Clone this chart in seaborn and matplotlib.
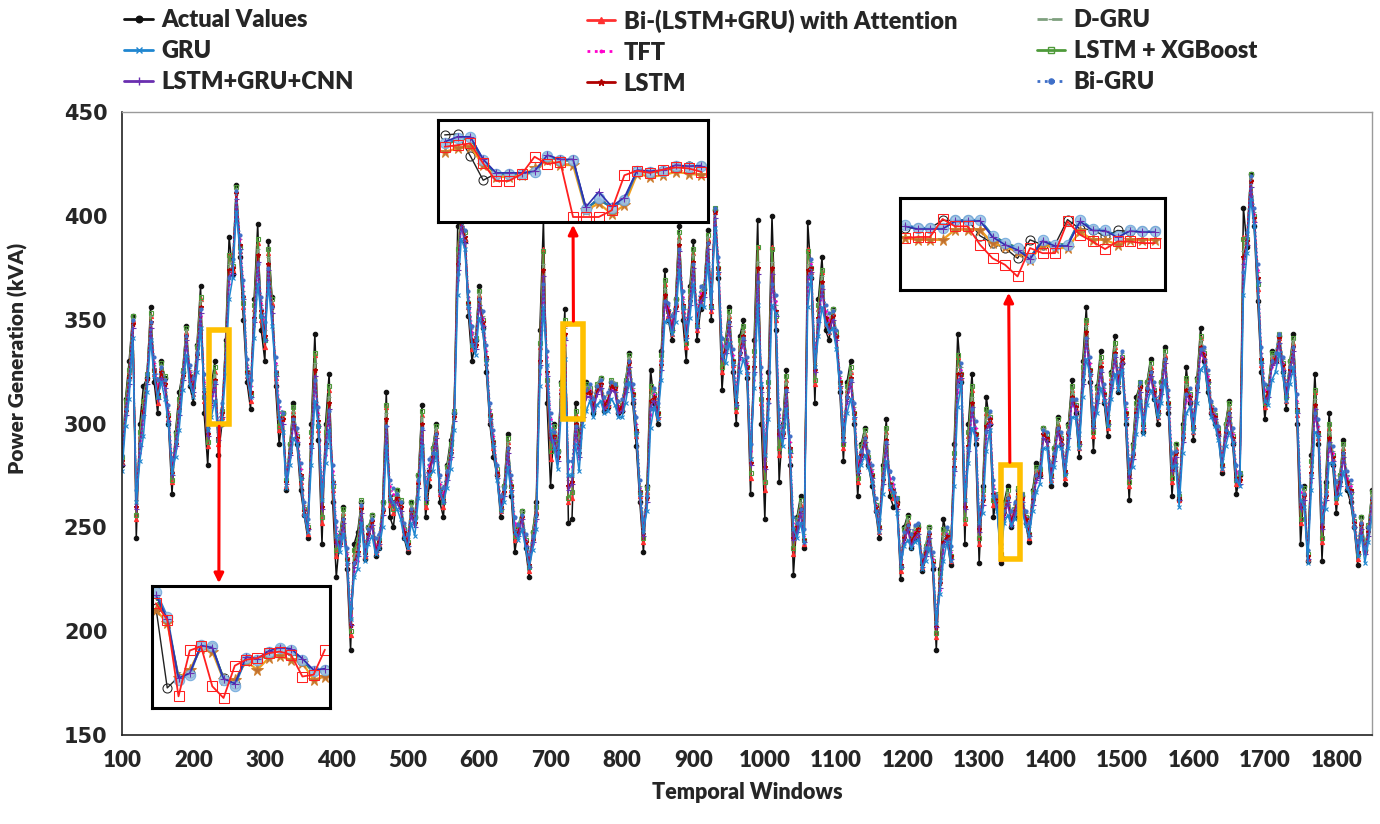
import numpy as np
import pandas as pd
import matplotlib
matplotlib.use("Agg")
import matplotlib.pyplot as plt
import seaborn as sns
from matplotlib.lines import Line2D
from matplotlib.patches import Rectangle

# ---------------- data ----------------
# readings every 10 windows (100, 110, ...) and the in-between windows (105, 115, ...)
windows_a = list(range(100, 1851, 10))
windows_b = list(range(105, 1850, 10))

actual_a = [
    280, 330, 245, 318, 356, 305, 322, 266, 315, 347,
    310, 366, 280, 330, 300, 390, 415, 350, 307, 396,
    330, 361, 290, 268, 310, 268, 245, 343, 242, 324,
    226, 260, 191, 248, 235, 256, 240, 315, 250, 262,
    238, 255, 309, 270, 300, 255, 292, 395, 388, 330,
    366, 325, 284, 255, 295, 238, 258, 226, 262, 398,
    270, 287, 355, 254, 293, 320, 305, 322, 308, 318,
    306, 334, 289, 238, 326, 300, 374, 340, 395, 330,
    388, 355, 393, 403, 316, 356, 300, 350, 266, 398,
    254, 400, 272, 326, 227, 265, 397, 310, 380, 340,
    342, 282, 330, 265, 298, 270, 245, 302, 260, 225,
    256, 245, 229, 250, 191, 254, 232, 343, 242, 324,
    233, 313, 255, 233, 270, 255, 265, 243, 281, 298,
    270, 303, 271, 321, 284, 356, 287, 335, 294, 342,
    329, 263, 313, 296, 331, 300, 337, 265, 263, 327,
    292, 346, 315, 300, 276, 311, 266, 404, 420, 359,
    302, 335, 342, 307, 343, 242, 234, 324, 234, 305,
    257, 292, 262, 232, 239, 268]
actual_b = [
    312, 352, 300, 322, 320, 330, 300, 296, 325, 318,
    338, 305, 318, 285, 340, 372, 380, 320, 360, 345,
    388, 318, 305, 290, 290, 256, 300, 292, 300, 262,
    246, 230, 242, 262, 250, 236, 262, 255, 268, 245,
    262, 275, 255, 288, 262, 280, 305, 398, 352, 340,
    346, 300, 275, 270, 265, 250, 240, 248, 345, 310,
    300, 320, 252, 310, 308, 315, 318, 306, 320, 305,
    320, 310, 262, 270, 310, 335, 350, 360, 350, 366,
    340, 365, 350, 370, 340, 325, 342, 322, 340, 300,
    325, 345, 300, 280, 255, 240, 370, 360, 345, 355,
    315, 320, 300, 290, 280, 258, 280, 265, 262, 250,
    240, 250, 240, 230, 230, 245, 290, 320, 300, 290,
    270, 300, 265, 262, 250, 268, 252, 268, 275, 292,
    288, 290, 300, 305, 330, 320, 318, 310, 325, 315,
    300, 290, 318, 320, 312, 320, 305, 290, 300, 310,
    322, 330, 305, 295, 300, 290, 275, 385, 395, 325,
    318, 330, 325, 330, 300, 270, 285, 290, 272, 280,
    275, 268, 250, 255, 250]

bi_lstm_gru_att_a = [
    281, 325, 254, 311, 352, 310, 320, 272, 310, 344,
    314, 360, 289, 325, 303, 381, 412, 356, 311, 387,
    337, 358, 297, 270, 306, 272, 247, 333, 252, 316,
    236, 257, 198, 242, 236, 254, 242, 308, 257, 261,
    240, 253, 304, 274, 297, 260, 288, 385, 389, 336,
    362, 329, 288, 258, 291, 244, 256, 229, 258, 384,
    283, 285, 348, 264, 289, 317, 307, 320, 309, 317,
    307, 331, 294, 243, 317, 303, 367, 343, 390, 337,
    382, 358, 389, 402, 325, 352, 306, 345, 274, 385,
    268, 385, 285, 321, 237, 261, 384, 319, 373, 344,
    342, 288, 325, 272, 295, 273, 248, 296, 264, 229,
    253, 246, 231, 248, 197, 248, 234, 332, 252, 316,
    242, 305, 261, 235, 266, 257, 264, 245, 277, 296,
    273, 300, 274, 316, 288, 349, 294, 330, 298, 337,
    330, 270, 308, 298, 327, 303, 333, 272, 263, 321,
    296, 341, 318, 302, 278, 308, 271, 390, 418, 365,
    308, 332, 341, 311, 339, 252, 235, 315, 243, 298,
    262, 288, 265, 235, 238, 265]
bi_lstm_gru_att_b = [
    309, 350, 294, 322, 324, 327, 302, 293, 324, 321,
    335, 311, 314, 290, 336, 374, 383, 323, 355, 350,
    382, 322, 303, 288, 292, 257, 294, 297, 294, 268,
    244, 233, 237, 261, 248, 238, 260, 261, 266, 247,
    260, 273, 260, 286, 266, 277, 304, 398, 356, 339,
    348, 302, 276, 268, 268, 249, 242, 246, 337, 319,
    297, 317, 262, 304, 306, 315, 317, 308, 319, 306,
    319, 312, 265, 267, 312, 331, 352, 358, 354, 362,
    345, 364, 354, 373, 338, 328, 338, 325, 333, 310,
    318, 350, 297, 285, 252, 242, 373, 355, 348, 353,
    318, 316, 303, 287, 282, 259, 276, 269, 262, 247,
    242, 249, 239, 232, 226, 246, 284, 322, 294, 293,
    266, 301, 264, 259, 252, 267, 253, 265, 276, 293,
    286, 291, 297, 307, 325, 324, 315, 312, 322, 318,
    303, 287, 318, 318, 314, 318, 308, 288, 296, 312,
    319, 332, 306, 296, 298, 292, 274, 387, 398, 328,
    316, 331, 327, 328, 304, 267, 280, 293, 268, 283,
    273, 270, 251, 253, 249]

d_gru_a = [
    285, 325, 263, 309, 352, 317, 322, 279, 310, 345,
    320, 359, 298, 324, 308, 377, 413, 364, 318, 384,
    345, 359, 306, 275, 306, 278, 252, 329, 263, 313,
    246, 257, 206, 241, 240, 256, 246, 305, 265, 263,
    245, 255, 303, 280, 298, 266, 289, 380, 392, 343,
    363, 335, 294, 263, 291, 251, 258, 235, 259, 377,
    296, 287, 346, 275, 289, 318, 311, 322, 314, 320,
    311, 332, 300, 250, 314, 308, 365, 349, 389, 345,
    381, 364, 390, 404, 335, 352, 313, 345, 284, 378,
    282, 378, 298, 320, 248, 262, 377, 329, 371, 350,
    345, 296, 325, 280, 296, 278, 253, 295, 271, 235,
    254, 250, 235, 250, 205, 246, 239, 327, 263, 313,
    252, 302, 269, 240, 267, 261, 267, 250, 278, 298,
    278, 301, 280, 316, 294, 347, 302, 330, 304, 337,
    334, 278, 308, 302, 328, 309, 334, 281, 267, 319,
    302, 340, 324, 306, 283, 308, 277, 383, 418, 373,
    315, 333, 344, 317, 340, 263, 239, 312, 253, 296,
    269, 289, 271, 241, 241, 266]
d_gru_b = [
    309, 351, 293, 324, 329, 328, 306, 293, 326, 326,
    336, 318, 314, 296, 336, 378, 389, 328, 354, 357,
    380, 328, 305, 289, 296, 261, 293, 304, 293, 275,
    245, 238, 236, 262, 250, 242, 261, 268, 267, 251,
    261, 274, 267, 287, 271, 278, 306, 400, 361, 341,
    352, 307, 279, 270, 273, 251, 246, 247, 333, 328,
    297, 317, 273, 303, 308, 318, 319, 312, 321, 310,
    320, 317, 270, 267, 316, 331, 357, 359, 360, 362,
    351, 366, 360, 378, 339, 333, 337, 330, 330, 320,
    315, 357, 298, 291, 253, 247, 378, 354, 354, 355,
    323, 316, 308, 288, 286, 263, 276, 274, 264, 248,
    246, 252, 241, 236, 226, 249, 282, 327, 292, 298,
    266, 305, 266, 260, 256, 269, 257, 266, 279, 296,
    287, 295, 298, 311, 324, 329, 315, 317, 322, 323,
    308, 288, 320, 319, 318, 319, 313, 289, 296, 316,
    320, 336, 310, 299, 299, 296, 276, 391, 402, 334,
    318, 334, 331, 329, 310, 268, 279, 299, 268, 287,
    275, 275, 255, 254, 251]

gru_a = [
    277, 312, 262, 294, 340, 313, 312, 276, 297, 333,
    313, 346, 297, 311, 301, 360, 402, 361, 313, 367,
    340, 347, 303, 269, 293, 274, 248, 311, 263, 297,
    246, 247, 206, 230, 234, 246, 240, 289, 262, 254,
    240, 246, 289, 275, 286, 262, 278, 362, 384, 338,
    351, 329, 289, 258, 279, 248, 249, 231, 249, 356,
    297, 278, 331, 275, 277, 306, 303, 311, 306, 309,
    303, 320, 295, 248, 298, 302, 349, 343, 374, 340,
    367, 357, 377, 394, 333, 339, 309, 331, 283, 357,
    285, 357, 299, 307, 249, 252, 356, 327, 356, 344,
    336, 292, 312, 277, 285, 272, 248, 282, 267, 231,
    244, 243, 230, 240, 204, 234, 234, 308, 263, 298,
    252, 287, 265, 236, 256, 254, 258, 246, 267, 288,
    272, 289, 275, 303, 288, 331, 299, 317, 299, 324,
    326, 276, 295, 295, 316, 303, 321, 279, 260, 305,
    296, 326, 317, 299, 278, 296, 273, 362, 408, 368,
    311, 321, 334, 311, 327, 263, 233, 296, 253, 281,
    264, 277, 265, 236, 233, 255]
gru_b = [
    299, 341, 282, 315, 323, 320, 300, 284, 316, 319,
    325, 316, 303, 292, 324, 370, 383, 323, 341, 352,
    367, 325, 296, 280, 290, 256, 280, 299, 281, 272,
    238, 233, 226, 252, 242, 237, 250, 265, 259, 245,
    252, 264, 264, 277, 268, 269, 297, 389, 356, 333,
    345, 302, 273, 262, 267, 244, 240, 239, 318, 328,
    288, 306, 275, 290, 299, 311, 309, 305, 312, 303,
    310, 312, 266, 258, 308, 321, 350, 349, 356, 351,
    347, 356, 356, 372, 329, 329, 325, 324, 317, 319,
    302, 353, 289, 287, 245, 243, 371, 342, 348, 346,
    317, 305, 302, 280, 279, 258, 266, 270, 257, 241,
    240, 244, 234, 232, 218, 243, 270, 320, 281, 293,
    257, 297, 258, 252, 251, 260, 251, 258, 271, 288,
    279, 288, 288, 303, 313, 324, 305, 311, 312, 316,
    302, 279, 311, 309, 312, 310, 308, 280, 286, 308,
    310, 328, 303, 292, 289, 291, 270, 382, 395, 329,
    309, 325, 324, 319, 306, 260, 268, 294, 259, 281,
    266, 269, 250, 246, 243]

tft_a = [
    282, 318, 266, 300, 346, 318, 318, 280, 303, 339,
    319, 352, 301, 317, 307, 367, 409, 366, 318, 374,
    346, 353, 308, 273, 299, 278, 251, 318, 267, 303,
    250, 251, 208, 234, 238, 251, 244, 296, 266, 259,
    244, 251, 295, 280, 292, 266, 283, 369, 390, 344,
    357, 335, 294, 262, 285, 252, 253, 234, 253, 364,
    302, 283, 338, 279, 283, 313, 309, 318, 312, 316,
    309, 327, 300, 251, 304, 307, 356, 349, 381, 346,
    374, 363, 384, 401, 338, 346, 314, 338, 287, 365,
    290, 364, 304, 313, 252, 256, 364, 332, 363, 350,
    342, 297, 318, 281, 290, 277, 251, 288, 271, 234,
    248, 248, 233, 245, 206, 238, 238, 315, 267, 304,
    256, 293, 270, 239, 261, 259, 263, 249, 272, 294,
    277, 295, 279, 309, 293, 338, 304, 323, 304, 330,
    332, 280, 301, 300, 322, 308, 328, 283, 264, 311,
    301, 333, 323, 304, 282, 302, 277, 370, 416, 374,
    316, 327, 340, 316, 334, 267, 236, 302, 257, 287,
    269, 283, 270, 240, 237, 261]
tft_b = [
    304, 347, 286, 321, 329, 324, 305, 288, 322, 325,
    331, 320, 308, 296, 330, 376, 389, 327, 347, 358,
    373, 329, 301, 284, 295, 259, 286, 305, 285, 277,
    241, 237, 229, 258, 246, 241, 256, 270, 263, 249,
    256, 270, 268, 283, 271, 274, 302, 397, 361, 337,
    351, 306, 277, 266, 272, 247, 244, 242, 324, 332,
    292, 312, 278, 296, 304, 316, 315, 310, 317, 308,
    316, 316, 269, 262, 314, 326, 356, 355, 361, 357,
    352, 362, 361, 378, 334, 333, 331, 329, 321, 324,
    307, 359, 293, 291, 248, 246, 377, 347, 354, 351,
    322, 310, 307, 284, 284, 261, 271, 274, 261, 244,
    244, 249, 237, 235, 220, 247, 275, 326, 285, 298,
    261, 303, 262, 255, 255, 265, 255, 262, 276, 293,
    283, 293, 293, 309, 318, 329, 310, 316, 317, 322,
    307, 283, 317, 314, 317, 315, 313, 284, 291, 314,
    315, 334, 308, 296, 294, 295, 273, 390, 401, 334,
    314, 331, 329, 324, 311, 263, 272, 299, 263, 286,
    271, 274, 253, 249, 247]

lstm_xgboost_a = [
    284, 326, 256, 311, 353, 313, 323, 273, 312, 346,
    318, 361, 291, 327, 306, 381, 414, 358, 314, 389,
    340, 360, 299, 273, 308, 274, 250, 334, 255, 318,
    239, 259, 200, 244, 238, 256, 244, 309, 259, 263,
    243, 255, 306, 276, 299, 262, 290, 384, 392, 338,
    364, 331, 291, 259, 293, 246, 258, 231, 260, 383,
    287, 287, 350, 267, 290, 319, 309, 322, 311, 319,
    309, 333, 296, 245, 318, 305, 369, 345, 392, 339,
    384, 360, 391, 404, 327, 354, 308, 347, 276, 385,
    272, 384, 288, 323, 240, 263, 383, 321, 374, 346,
    344, 290, 327, 274, 297, 275, 250, 298, 266, 231,
    255, 248, 233, 250, 199, 249, 236, 333, 254, 318,
    245, 307, 263, 237, 268, 259, 266, 247, 279, 298,
    275, 302, 276, 318, 290, 350, 296, 332, 300, 339,
    332, 272, 310, 300, 329, 305, 335, 274, 265, 322,
    298, 342, 320, 304, 280, 310, 273, 389, 420, 367,
    310, 334, 343, 313, 341, 254, 237, 316, 245, 300,
    264, 290, 267, 237, 240, 267]
lstm_xgboost_b = [
    311, 352, 296, 324, 326, 329, 304, 295, 326, 323,
    337, 313, 316, 292, 338, 376, 385, 325, 357, 352,
    384, 324, 305, 290, 294, 259, 296, 299, 296, 270,
    246, 235, 239, 263, 250, 240, 262, 263, 268, 249,
    262, 275, 262, 288, 268, 279, 306, 400, 358, 341,
    350, 304, 278, 270, 270, 251, 244, 248, 339, 321,
    299, 319, 264, 306, 308, 317, 319, 310, 321, 308,
    321, 314, 267, 269, 314, 333, 354, 360, 356, 364,
    347, 366, 356, 375, 340, 330, 340, 327, 335, 312,
    320, 352, 299, 287, 254, 244, 375, 357, 350, 355,
    320, 318, 305, 289, 284, 261, 278, 271, 264, 249,
    244, 251, 241, 234, 228, 248, 286, 324, 296, 295,
    268, 303, 266, 261, 254, 269, 255, 267, 278, 295,
    288, 293, 299, 309, 327, 326, 317, 314, 324, 320,
    305, 289, 320, 320, 316, 320, 310, 290, 298, 314,
    321, 334, 308, 298, 300, 294, 276, 389, 400, 330,
    318, 333, 329, 330, 306, 269, 282, 295, 270, 285,
    275, 272, 253, 255, 251]

lstm_gru_cnn_a = [
    280, 319, 259, 304, 346, 312, 317, 275, 304, 340,
    315, 353, 294, 319, 303, 371, 408, 360, 313, 378,
    340, 353, 302, 271, 300, 274, 249, 323, 259, 307,
    242, 252, 203, 236, 236, 251, 242, 299, 261, 258,
    241, 250, 297, 276, 293, 262, 284, 374, 387, 339,
    357, 331, 289, 259, 286, 247, 254, 231, 254, 371,
    292, 282, 340, 271, 284, 313, 306, 317, 309, 315,
    306, 327, 296, 246, 308, 303, 359, 345, 383, 341,
    375, 359, 384, 399, 331, 347, 309, 340, 280, 372,
    278, 372, 294, 315, 244, 257, 371, 325, 365, 345,
    340, 291, 320, 276, 291, 274, 249, 290, 267, 231,
    249, 245, 231, 245, 202, 242, 235, 321, 259, 308,
    248, 297, 265, 236, 262, 257, 262, 246, 273, 293,
    274, 296, 276, 311, 290, 341, 298, 325, 300, 332,
    329, 274, 303, 298, 323, 305, 329, 277, 263, 314,
    298, 335, 320, 302, 279, 303, 273, 377, 414, 368,
    311, 328, 339, 313, 335, 259, 235, 307, 249, 291,
    265, 284, 267, 237, 237, 261]
lstm_gru_cnn_b = [
    304, 346, 289, 319, 324, 322, 301, 289, 321, 321,
    331, 313, 309, 292, 331, 372, 384, 324, 349, 352,
    374, 323, 300, 285, 291, 256, 288, 299, 288, 271,
    241, 233, 231, 257, 245, 238, 256, 263, 262, 246,
    256, 269, 263, 282, 266, 273, 301, 395, 356, 336,
    347, 302, 274, 265, 268, 246, 241, 243, 328, 323,
    292, 312, 268, 298, 303, 313, 314, 307, 316, 305,
    315, 312, 265, 262, 311, 326, 352, 354, 355, 357,
    346, 361, 355, 373, 334, 328, 332, 325, 325, 315,
    310, 352, 293, 286, 248, 243, 373, 349, 349, 350,
    318, 311, 303, 283, 281, 258, 271, 269, 259, 243,
    241, 247, 236, 231, 221, 244, 277, 322, 287, 293,
    261, 300, 261, 255, 251, 264, 252, 261, 274, 291,
    282, 290, 293, 306, 319, 324, 310, 312, 317, 318,
    303, 283, 315, 314, 313, 314, 308, 284, 291, 311,
    315, 331, 305, 294, 294, 291, 271, 386, 397, 329,
    313, 329, 326, 324, 305, 263, 274, 294, 263, 282,
    270, 270, 250, 249, 246]

lstm_a = [
    282, 322, 260, 306, 349, 314, 319, 276, 307, 342,
    317, 356, 295, 321, 305, 374, 411, 361, 315, 381,
    342, 356, 303, 272, 303, 275, 249, 326, 260, 310,
    243, 254, 203, 238, 237, 253, 243, 302, 262, 260,
    242, 252, 300, 277, 295, 263, 286, 377, 390, 340,
    360, 332, 291, 260, 288, 248, 255, 232, 256, 374,
    293, 284, 343, 272, 286, 315, 308, 319, 311, 317,
    308, 329, 297, 247, 311, 305, 362, 346, 386, 342,
    378, 361, 387, 402, 332, 349, 310, 342, 281, 375,
    279, 375, 295, 317, 245, 259, 374, 326, 368, 347,
    342, 293, 322, 277, 293, 275, 250, 292, 268, 232,
    251, 247, 232, 247, 202, 243, 236, 324, 260, 310,
    249, 299, 266, 237, 264, 258, 264, 247, 275, 295,
    275, 298, 277, 313, 291, 344, 299, 327, 301, 334,
    331, 275, 305, 299, 325, 306, 331, 278, 264, 316,
    299, 337, 321, 303, 280, 305, 274, 380, 417, 370,
    312, 330, 341, 314, 337, 260, 236, 309, 250, 293,
    266, 286, 268, 238, 238, 263]
lstm_b = [
    306, 348, 290, 321, 326, 325, 303, 290, 323, 323,
    333, 315, 311, 293, 333, 375, 386, 325, 351, 354,
    377, 325, 302, 286, 293, 258, 290, 301, 290, 272,
    242, 235, 233, 259, 247, 239, 258, 265, 264, 248,
    258, 271, 264, 284, 268, 275, 303, 397, 358, 338,
    349, 304, 276, 267, 270, 248, 243, 244, 330, 325,
    294, 314, 270, 300, 305, 315, 316, 309, 318, 307,
    317, 314, 267, 264, 313, 328, 354, 356, 357, 359,
    348, 363, 357, 375, 336, 330, 334, 327, 327, 317,
    312, 354, 295, 288, 250, 244, 375, 351, 351, 352,
    320, 313, 305, 285, 283, 260, 273, 271, 261, 245,
    243, 249, 238, 233, 223, 246, 279, 324, 289, 295,
    263, 302, 263, 257, 253, 266, 254, 263, 276, 293,
    284, 292, 295, 308, 321, 326, 312, 314, 319, 320,
    305, 285, 317, 316, 315, 316, 310, 286, 293, 313,
    317, 333, 307, 296, 296, 293, 273, 388, 399, 331,
    315, 331, 328, 326, 307, 265, 276, 296, 265, 284,
    272, 272, 252, 251, 248]

bi_gru_a = [
    285, 321, 268, 303, 349, 321, 321, 283, 306, 342,
    322, 355, 304, 320, 310, 370, 412, 369, 321, 377,
    349, 356, 311, 276, 302, 281, 254, 321, 270, 306,
    253, 254, 211, 237, 241, 254, 247, 299, 269, 262,
    247, 254, 298, 283, 295, 269, 286, 372, 393, 347,
    360, 338, 297, 265, 288, 255, 256, 237, 256, 367,
    305, 286, 341, 282, 286, 316, 312, 321, 315, 319,
    312, 330, 303, 254, 307, 310, 359, 352, 384, 349,
    377, 366, 387, 404, 341, 349, 317, 341, 290, 368,
    293, 367, 307, 316, 255, 259, 367, 335, 366, 353,
    345, 300, 321, 284, 293, 280, 254, 291, 274, 237,
    251, 251, 236, 248, 209, 241, 241, 318, 270, 307,
    259, 296, 273, 242, 264, 262, 266, 252, 275, 297,
    280, 298, 282, 312, 296, 341, 307, 326, 307, 333,
    335, 283, 304, 303, 325, 311, 331, 286, 267, 314,
    304, 336, 326, 307, 285, 305, 280, 373, 419, 377,
    319, 330, 343, 319, 337, 270, 239, 305, 260, 290,
    272, 286, 273, 243, 240, 264]
bi_gru_b = [
    307, 350, 290, 324, 332, 327, 309, 291, 325, 328,
    334, 324, 311, 300, 333, 379, 391, 331, 350, 361,
    375, 332, 305, 287, 298, 262, 289, 308, 289, 280,
    245, 240, 233, 261, 249, 245, 259, 273, 266, 252,
    259, 273, 272, 286, 275, 277, 305, 398, 364, 340,
    354, 310, 280, 269, 275, 251, 247, 246, 327, 335,
    296, 315, 282, 299, 307, 319, 318, 313, 320, 311,
    319, 319, 273, 265, 317, 329, 358, 358, 364, 359,
    355, 365, 364, 380, 337, 336, 334, 332, 324, 327,
    310, 362, 296, 294, 252, 249, 379, 350, 357, 354,
    325, 313, 310, 287, 287, 264, 274, 277, 264, 248,
    247, 252, 240, 238, 224, 250, 278, 329, 288, 301,
    264, 306, 265, 258, 258, 268, 258, 265, 279, 296,
    286, 296, 296, 312, 321, 332, 313, 319, 320, 325,
    310, 286, 320, 317, 320, 318, 316, 287, 294, 317,
    318, 337, 311, 299, 297, 298, 276, 392, 404, 337,
    317, 334, 332, 327, 314, 266, 275, 302, 266, 289,
    274, 277, 256, 252, 250]

# zoomed detail windows
zoom1_windows = list(range(226, 242))
zoom1_actual = [336.8, 307.4, 311.5, 313.0, 323.0, 322.5, 311.0, 309.0, 318.0, 317.5, 320.5, 321.8, 321.0, 317.5, 313.8, 314.0]
zoom1_red = [338.6, 332.5, 304.3, 321.2, 322.7, 308.0, 303.7, 315.6, 317.8, 318.4, 320.2, 320.8, 319.6, 311.6, 312.3, 321.5]
zoom1_orange = [336.2, 331.3, 311.0, 314.1, 322.1, 320.8, 310.4, 310.4, 317.2, 314.1, 318.4, 319.0, 317.8, 316.6, 310.4, 311.6]
zoom1_green = [340.5, 332.0, 311.8, 313.5, 322.5, 322.0, 311.2, 309.5, 318.0, 317.0, 320.2, 321.5, 321.0, 317.5, 313.0, 313.8]
zoom1_purple = [341.5, 332.8, 311.0, 312.8, 323.0, 322.3, 310.8, 309.0, 318.8, 318.2, 321.0, 322.3, 321.8, 318.2, 314.0, 314.5]
zoom1_blue = [342.9, 333.7, 310.4, 312.3, 323.3, 322.7, 310.4, 308.2, 318.4, 317.8, 320.8, 322.1, 321.5, 317.8, 313.5, 314.1]

zoom2_windows = list(range(720, 741))
zoom2_actual = [340.7, 341.1, 331.8, 321.6, 324.4, 324.4, 324.4, 325.1, 331.5, 330.1, 330.1, 309.4, 313.9, 310.1, 313.4, 325.6, 325.1, 325.6, 327.3, 327.5, 327.5]
zoom2_red = [335.7, 336.4, 337.1, 328.7, 321.3, 321.3, 324.2, 331.5, 328.4, 329.4, 306.1, 306.1, 306.1, 308.9, 323.7, 325.6, 324.7, 326.1, 327.0, 326.6, 325.1]
zoom2_orange = [333.6, 335.0, 335.7, 328.0, 323.0, 323.0, 323.7, 326.6, 330.1, 328.0, 328.0, 308.9, 311.8, 307.5, 311.0, 324.4, 323.0, 323.7, 325.1, 324.4, 323.7]
zoom2_green = [336.4, 338.5, 339.2, 329.4, 324.2, 324.2, 324.2, 324.7, 331.5, 329.8, 329.8, 309.6, 313.2, 310.3, 312.9, 325.1, 324.7, 325.1, 327.3, 327.0, 327.3]
zoom2_purple = [337.8, 339.9, 339.9, 330.4, 324.7, 324.7, 324.7, 325.4, 332.2, 330.4, 330.4, 310.3, 316.7, 310.6, 314.3, 325.9, 325.4, 325.9, 328.0, 327.5, 327.8]
zoom2_blue = [337.1, 339.2, 339.9, 330.1, 324.4, 324.4, 324.4, 325.1, 331.8, 330.1, 330.1, 309.4, 313.9, 310.1, 313.2, 325.6, 325.1, 325.6, 327.5, 327.3, 327.5]

zoom3_windows = list(range(1332, 1353))
zoom3_actual = [265.3, 265.3, 265.3, 269.0, 269.0, 269.4, 261.5, 257.9, 255.5, 250.5, 259.5, 257.1, 257.1, 269.4, 264.8, 264.5, 261.2, 264.1, 263.6, 263.6, 263.6]
zoom3_red = [260.4, 260.9, 260.9, 269.7, 266.1, 266.1, 257.1, 250.5, 247.3, 241.6, 255.5, 253.0, 253.0, 268.5, 262.0, 258.7, 255.0, 258.7, 258.7, 257.9, 257.9]
zoom3_orange = [260.4, 259.5, 259.5, 259.5, 264.5, 264.5, 264.5, 257.9, 256.0, 253.8, 249.7, 257.1, 255.5, 255.5, 263.6, 259.5, 259.5, 257.1, 259.5, 259.5, 259.5]
zoom3_green = [266.5, 265.0, 265.0, 265.0, 268.6, 268.6, 269.0, 261.8, 258.2, 255.8, 251.0, 259.2, 257.4, 257.4, 269.0, 264.5, 264.2, 261.5, 263.8, 263.3, 263.3]
zoom3_purple = [266.1, 264.8, 264.8, 264.8, 268.5, 268.5, 268.8, 260.9, 257.1, 254.6, 250.0, 258.9, 256.5, 256.5, 268.5, 264.1, 264.0, 260.7, 263.8, 263.3, 263.3]
zoom3_blue = [266.9, 265.3, 265.3, 265.3, 269.0, 269.0, 269.4, 261.5, 257.9, 255.5, 250.5, 259.5, 257.1, 257.1, 269.4, 264.8, 264.5, 261.2, 264.1, 263.6, 263.6]

# ---------------- styling ----------------
sns.set_theme(style="white")
TEXT_FONT = ["Lato", "DejaVu Sans"]
plt.rcParams["font.family"] = TEXT_FONT
plt.rcParams["font.weight"] = "bold"

series = [
    # label, values at windows_a, values at windows_b, color, marker, linestyle, markersize
    ("Actual Values", actual_a, actual_b, "#111111", "o", "-", 3.2),
    ("Bi-(LSTM+GRU) with Attention", bi_lstm_gru_att_a, bi_lstm_gru_att_b, "#FF3030", "^", "-", 3.0),
    ("LSTM + XGBoost", lstm_xgboost_a, lstm_xgboost_b, "#4E9A3A", "s", "-", 3.2),
    ("D-GRU", d_gru_a, d_gru_b, "#7FA07F", "_", "--", 3.5),
    ("TFT", tft_a, tft_b, "#FF00CC", ".", ":", 2.2),
    ("LSTM", lstm_a, lstm_b, "#B00000", "*", "-", 3.4),
    ("LSTM+GRU+CNN", lstm_gru_cnn_a, lstm_gru_cnn_b, "#6A2FB0", "+", "-", 3.6),
    ("Bi-GRU", bi_gru_a, bi_gru_b, "#3F6FC8", "o", ":", 2.2),
    ("GRU", gru_a, gru_b, "#1F86D0", "x", "-", 3.2),
]
style = {s[0]: s[3:] for s in series}

frames = []
for name, va, vb, *_ in series:
    frames.append(pd.DataFrame({"window": windows_a, "kva": va, "model": name}))
    frames.append(pd.DataFrame({"window": windows_b, "kva": vb, "model": name}))
df = pd.concat(frames, ignore_index=True).sort_values(["model", "window"])

fig = plt.figure(figsize=(13.8, 8.24), dpi=100)
ax = fig.add_axes([0.0884, 0.108, 0.9058, 0.756])

for name, va, vb, color, marker, ls, ms in series:
    sub = df[df["model"] == name]
    mfc = "none" if marker == "s" else color
    sns.lineplot(data=sub, x="window", y="kva", ax=ax, color=color, lw=1.1,
                 linestyle=ls, marker=marker, markersize=ms, markerfacecolor=mfc,
                 markeredgecolor=color, markeredgewidth=0.8, sort=False,
                 estimator=None, legend=False)

ax.set_xlim(100, 1850)
ax.set_ylim(150, 450)
ax.set_xticks(range(100, 1801, 100))
ax.set_yticks(range(150, 451, 50))
ax.tick_params(axis="both", direction="inout", length=14, width=1.0, color="#222222")
ax.tick_params(axis="x", pad=4)
for lab in ax.get_xticklabels():
    lab.set_fontsize(16)
    lab.set_fontweight("heavy")
    lab.set_family(TEXT_FONT)
for lab in ax.get_yticklabels():
    lab.set_fontsize(15)
    lab.set_fontweight("bold")
    lab.set_family(["DejaVu Sans"])
ax.set_xlabel("Temporal Windows", fontsize=15.5, fontweight="heavy", labelpad=8)
ax.set_ylabel("Power Generation (kVA)", fontsize=15, fontweight="heavy")
ax.yaxis.set_label_coords(-0.075, 0.605)
for side in ("left", "bottom"):
    ax.spines[side].set_color("#222222")
    ax.spines[side].set_linewidth(1.2)
for side in ("top", "right"):
    ax.spines[side].set_color("#9a9a9a")
    ax.spines[side].set_linewidth(1.0)

# highlight boxes on the main series
for (x0, y0, w, h) in [(222, 300, 28, 45), (718, 302, 28, 46), (1330, 235, 27, 45)]:
    ax.add_patch(Rectangle((x0, y0), w, h, fill=False, edgecolor="#FFC000",
                           lw=4, zorder=20))

# zoomed detail panels
def detail(rect, xw, data, xlim, ylim):
    ins = fig.add_axes(rect)
    ins.set_facecolor("white")
    act, red, orange, green, purple, blue = data
    sns.lineplot(x=xw, y=act, ax=ins, color="#222222", lw=1.0, marker="o",
                 markersize=6.5, markerfacecolor="none", markeredgecolor="#222222",
                 sort=False, estimator=None)
    sns.lineplot(x=xw, y=green, ax=ins, color="#4E9A3A", lw=1.4, marker="s",
                 markersize=4.5, markerfacecolor="none", sort=False, estimator=None)
    sns.lineplot(x=xw, y=orange, ax=ins, color="#F0A020", lw=1.6, marker="*",
                 markersize=8.5, markerfacecolor="#C07030", markeredgecolor="#D08030",
                 sort=False, estimator=None)
    sns.lineplot(x=xw, y=blue, ax=ins, color="#2070C0", lw=1.6, marker="o",
                 markersize=7.5, markerfacecolor="#9CC3E6", markeredgecolor="#6FA8DC",
                 alpha=0.9, sort=False, estimator=None)
    sns.lineplot(x=xw, y=purple, ax=ins, color="#3030B0", lw=1.2, marker="+",
                 markersize=6, markeredgecolor="#6A2FB0", sort=False, estimator=None)
    sns.lineplot(x=xw, y=red, ax=ins, color="#FF2020", lw=1.3, marker="s",
                 markersize=6.5, markerfacecolor="none", markeredgecolor="#FF2020",
                 sort=False, estimator=None)
    ins.set_xlim(*xlim)
    ins.set_ylim(*ylim)
    ins.set_xticks([])
    ins.set_yticks([])
    ins.set_xlabel("")
    ins.set_ylabel("")
    for sp in ins.spines.values():
        sp.set_visible(True)
        sp.set_color("black")
        sp.set_linewidth(2.2)
    return ins

ins1 = detail([0.1101, 0.1408, 0.1290, 0.1481], zoom1_windows,
              (zoom1_actual, zoom1_red, zoom1_orange, zoom1_green, zoom1_purple, zoom1_blue),
              (225.64, 241.45), (300, 345))
ins2 = detail([0.3174, 0.7306, 0.1957, 0.1238], zoom2_windows,
              (zoom2_actual, zoom2_red, zoom2_orange, zoom2_green, zoom2_purple, zoom2_blue),
              (719.48, 740.52), (304, 347))
ins3 = detail([0.6522, 0.6481, 0.1920, 0.1117], zoom3_windows,
              (zoom3_actual, zoom3_red, zoom3_orange, zoom3_green, zoom3_purple, zoom3_blue),
              (1331.6, 1352.8), (235, 280))

arrow = dict(arrowstyle="-|>", color="#FF0000", lw=2.2, mutation_scale=14)
ax.annotate("", xy=(0.376, 1.0), xycoords=ins1.transAxes, xytext=(236, 300),
            textcoords="data", arrowprops=arrow, zorder=25)
ax.annotate("", xy=(0.5, 0.0), xycoords=ins2.transAxes, xytext=(732, 348),
            textcoords="data", arrowprops=arrow, zorder=25)
ax.annotate("", xy=(0.41, 0.0), xycoords=ins3.transAxes, xytext=(1343, 280),
            textcoords="data", arrowprops=arrow, zorder=25)

# legend: three columns placed across the top
def handle(name):
    color, marker, ls, ms = style[name]
    mfc = "none" if marker == "s" else color
    return Line2D([], [], color=color, lw=2.0, linestyle=ls, marker=marker,
                  markersize=ms + 1.5, markerfacecolor=mfc, markeredgecolor=color)

columns = [
    (["Actual Values", "GRU", "LSTM+GRU+CNN"], 0.0748),
    (["Bi-(LSTM+GRU) with Attention", "TFT", "LSTM"], 0.410),
    (["D-GRU", "LSTM + XGBoost", "Bi-GRU"], 0.736),
]
for names, xpos in columns:
    fig.legend([handle(n) for n in names], names, loc="upper left",
               bbox_to_anchor=(xpos, 1.015), frameon=False, ncol=1,
               handlelength=1.2, handletextpad=0.35, labelspacing=0.385,
               prop={"family": TEXT_FONT, "weight": "heavy", "size": 17})

fig.savefig("out.png", dpi=100, facecolor="white")
